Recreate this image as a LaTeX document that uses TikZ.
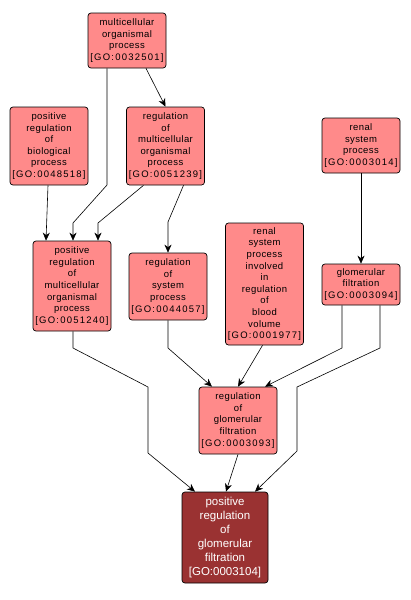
\documentclass[tikz,border=0pt]{standalone}
\usepackage{fontspec}
\setmainfont{Liberation Sans}
\newfontfamily\gofont[LetterSpace=4]{Liberation Sans}
\newfontfamily\gonum[LetterSpace=13]{Liberation Sans}
\usetikzlibrary{arrows.meta}
\definecolor{goFill}{RGB}{255,138,138}
\definecolor{goDark}{RGB}{154,50,50}
\newcommand{\goid}[1]{{\gonum[GO:#1]}}
\tikzset{
  term/.style={draw=black, line width=0.7pt, fill=goFill, rounded corners=3pt,
    align=center, inner sep=0pt, text width=#1, minimum width=#1,
    font=\gofont\fontsize{9.5}{11.6}\selectfont},
  term/.default=78pt,
  focus/.style={draw=black, line width=0.7pt, fill=goDark, rounded corners=3pt,
    align=center, inner sep=0pt, text width=86pt, minimum width=86pt, text=white,
    font=\fontsize{11.5}{14}\selectfont},
  edge/.style={draw=black, line width=0.6pt, -{Stealth[length=8pt,width=7pt,inset=2.5pt]}}
}
\begin{document}
\begin{tikzpicture}[x=1pt,y=-1pt]
\useasboundingbox (0,0) rectangle (410,600);
\node[term, minimum height=55pt] (A) at (127,40.5) {multicellular\\organismal\\process\\\goid{0032501}};
\node[term, minimum height=78pt] (B) at (49,146) {positive\\regulation\\of\\biological\\process\\\goid{0048518}};
\node[term, minimum height=78pt] (C) at (165.5,146) {regulation\\of\\multicellular\\organismal\\process\\\goid{0051239}};
\node[term, minimum height=55pt] (D) at (361,145.5) {renal\\system\\process\\\goid{0003014}};
\node[term, minimum height=90pt] (E) at (72,286) {positive\\regulation\\of\\multicellular\\organismal\\process\\\goid{0051240}};
\node[term, minimum height=67pt] (F) at (168,286.5) {regulation\\of\\system\\process\\\goid{0044057}};
\node[term, minimum height=122pt] (G) at (264.5,284) {renal\\system\\process\\involved\\in\\regulation\\of\\blood\\volume\\\goid{0001977}};
\node[term, minimum height=41pt] (H) at (361,284.5) {glomerular\\filtration\\\goid{0003094}};
\node[term, minimum height=67pt] (I) at (238,420.5) {regulation\\of\\glomerular\\filtration\\\goid{0003093}};
\node[focus, minimum height=91pt] (J) at (225,537.5) {positive\\regulation\\of\\glomerular\\filtration\\{[GO:0003104]}};

\draw[edge] ([xshift=19pt]A.south) -- (C.north);
\draw[edge] ([xshift=-20pt]A.south) -- (107,185) -- (73,223) -- ([xshift=1pt]E.north);
\draw[edge] ([xshift=-1pt]B.south) -- ([xshift=-26pt]E.north);
\draw[edge] ([xshift=-22pt]C.south) -- (98,223) -- ([xshift=26pt]E.north);
\draw[edge] ([xshift=18pt]C.south) -- (168,222) -- (F.north);
\draw[edge] (D.south) -- (H.north);
\draw[edge] ([xshift=1pt]E.south) -- (73,348) -- (148,387) -- (148,453) -- ([xshift=-30pt]J.north);
\draw[edge] (F.south) -- (168,348) -- ([xshift=-26pt]I.north);
\draw[edge] ([xshift=-2pt]G.south) -- (I.north);
\draw[edge] ([xshift=-19pt]H.south) -- (342,348) -- ([xshift=27pt]I.north);
\draw[edge] ([xshift=19pt]H.south) -- (380,348) -- (297,387) -- (297,451) -- ([xshift=30pt]J.north);
\draw[edge] (I.south) -- ([xshift=1pt]J.north);
\end{tikzpicture}
\end{document}
